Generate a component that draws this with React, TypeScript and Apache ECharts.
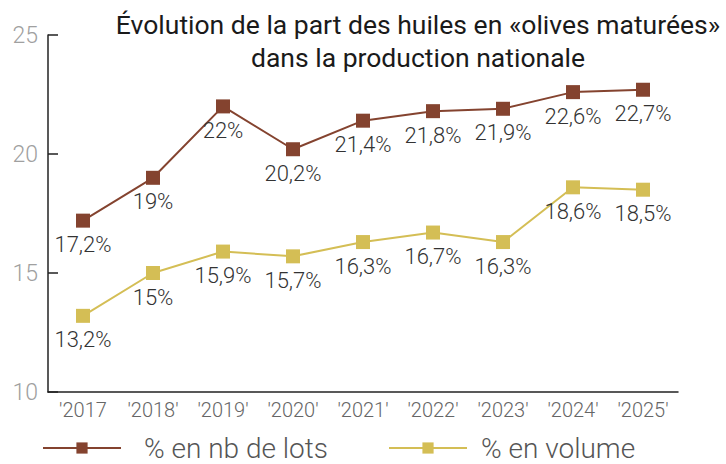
import React, { useEffect, useRef } from "react";
import * as echarts from "echarts";

const categories = ["'2017", "'2018'", "'2019'", "'2020'", "'2021'", "'2022'", "'2023'", "'2024'", "'2025'"];
const lotsValues = [17.2, 19, 22, 20.2, 21.4, 21.8, 21.9, 22.6, 22.7];
const volumeValues = [13.2, 15, 15.9, 15.7, 16.3, 16.7, 16.3, 18.6, 18.5];
const yTicks = [10, 15, 20, 25];
const seriesNames = ["% en nb de lots", "% en volume"];
const titleText = "Évolution de la part des huiles en «olives maturées»\ndans la production nationale";

const fmt = (v: number) => String(v).replace(".", ",") + "%";

export default function App() {
  const ref = useRef<HTMLDivElement>(null);
  useEffect(() => {
    document.body.style.margin = "0";
    document.body.style.overflow = "hidden";
    if (!ref.current) return;
    const chart = echarts.init(ref.current, null, { renderer: "svg" });
    const font = "Roboto";
    const label = {
      show: true,
      position: "bottom" as const,
      distance: 6,
      fontFamily: font,
      fontSize: 22,
      fontWeight: 300,
      color: "#333",
      formatter: (p: any) => fmt(p.value),
    };
    chart.setOption({
      animation: false,
      title: {
        text: titleText,
        left: 418,
        top: 8,
        padding: 0,
        textAlign: "center",
        textStyle: { fontFamily: font, fontSize: 26.5, fontWeight: 400, color: "#1a1a1a", lineHeight: 33 },
      },
      legend: {
        top: 428,
        left: 37,
        padding: [5, 5, 2, 5],
        itemWidth: 78,
        itemHeight: 14,
        itemGap: 60,
        textStyle: { fontFamily: font, fontSize: 28, lineHeight: 30, fontWeight: 300, color: "#555", padding: [0, 0, 0, 18] },
        data: [
          { name: seriesNames[0] },
          { name: seriesNames[1], textStyle: { padding: [0, 0, 0, 9] } },
        ],
      },
      grid: { left: 48, right: 48, top: 35, bottom: 72, containLabel: false },
      xAxis: {
        type: "category",
        data: categories,
        boundaryGap: true,
        axisLine: { lineStyle: { color: "#222", width: 1.5 } },
        axisTick: { inside: true, length: 9, interval: 0, lineStyle: { color: "#222", width: 1.5 } },
        axisLabel: { interval: 0, fontFamily: font, fontSize: 20, fontWeight: 300, color: "#666", margin: 8 },
      },
      yAxis: {
        type: "value",
        min: yTicks[0],
        max: yTicks[yTicks.length - 1],
        interval: 5,
        axisLine: { show: true, lineStyle: { color: "#222", width: 1.5 } },
        axisTick: { show: true, inside: true, length: 10, lineStyle: { color: "#222", width: 1.5 } },
        splitLine: { show: false },
        axisLabel: { fontFamily: font, fontSize: 23, fontWeight: 300, color: "#a0a0a0", margin: 10 },
      },
      series: [
        {
          name: seriesNames[0],
          type: "line",
          data: lotsValues,
          symbol: "rect",
          symbolSize: 14,
          color: "#84432F",
          lineStyle: { color: "#84432F", width: 2 },
          itemStyle: { color: "#84432F" },
          label,
        },
        {
          name: seriesNames[1],
          type: "line",
          data: volumeValues,
          symbol: "rect",
          symbolSize: 14,
          color: "#D4BE55",
          lineStyle: { color: "#D4BE55", width: 2 },
          itemStyle: { color: "#D4BE55" },
          label,
        },
      ],
    });
    return () => chart.dispose();
  }, []);
  return <div ref={ref} style={{ width: 726, height: 464 }} />;
}
